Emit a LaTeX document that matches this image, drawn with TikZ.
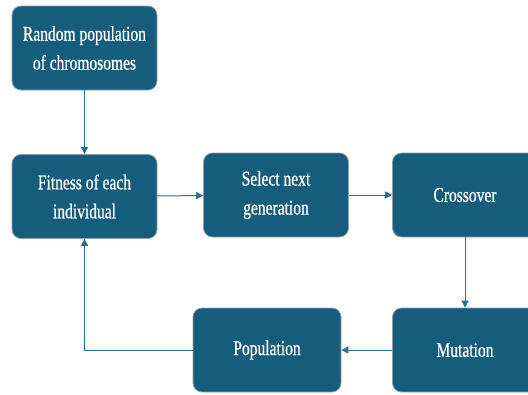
\documentclass[tikz,border=0pt]{standalone}
\usepackage{fontspec}
\setmainfont{Liberation Serif}[FakeStretch=0.74,FakeBold=0.7]
\usetikzlibrary{arrows.meta}
\usetikzlibrary{positioning}
\definecolor{boxblue}{RGB}{22,92,125}
\definecolor{lineblue}{RGB}{42,112,146}
\definecolor{rimgray}{RGB}{150,160,168}
\tikzset{
  stagebox/.style={draw=rimgray, line width=0.8pt, fill=boxblue, rounded corners=9pt,
    minimum width=145pt, minimum height=84pt, inner sep=0pt, text=white, align=center,
    font=\fontsize{21}{29}\selectfont},
  flow/.style={draw=lineblue, line width=1pt, -{Triangle[length=7pt,width=7pt]}}
}
\begin{document}
\begin{tikzpicture}[x=1pt,y=-1pt]
\useasboundingbox (0,0) rectangle (528,394);
\clip (0,0) rectangle (528,394);

\node[stagebox] (rand) at (84.5,48) {Random population\\of chromosomes};
\node[stagebox] (fit) at (84.5,196.5) {Fitness of each\\individual};
\node[stagebox] (sel) at (276,195) {Select next\\generation};
\node[stagebox] (cross) at (465,195) {Crossover};
\node[stagebox] (mut) at (465,350) {Mutation};
\node[stagebox, minimum width=148pt] (pop) at (267,350) {Population};

\draw[flow] (rand) -- (fit);
\draw[flow] (fit) -- (sel);
\draw[flow] (sel) -- (cross);
\draw[flow] (cross) -- (mut);
\draw[flow] (mut) -- (pop);
\draw[flow] (pop.west) -| (fit.south);
\end{tikzpicture}
\end{document}
